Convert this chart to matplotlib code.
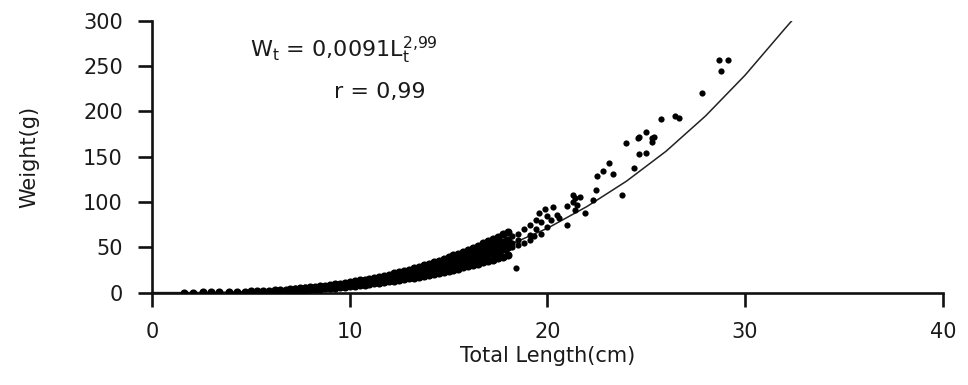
import numpy as np
import matplotlib.pyplot as plt

plt.rcParams['font.family'] = ['DejaVu Sans']
plt.rcParams['mathtext.fontset'] = 'dejavusans'

len_small = [1.6, 2.1, 2.6, 3.0, 3.4, 3.9, 4.3, 4.7, 5.0, 5.3, 5.6, 5.9, 6.2, 6.5, 6.8]
wt_small = [0.1, 0.1, 0.2, 0.3, 0.4, 0.6, 0.8, 1.0, 1.3, 1.5, 1.8, 2.1, 2.5, 2.9, 3.4]

# the dense band, 4 rows per length step (low .. high edge of the band)
band_len = [7.0, 7.25, 7.5, 7.75, 8.0, 8.25, 8.5, 8.75, 9.0, 9.25, 9.5, 9.75,
            10.0, 10.25, 10.5, 10.75, 11.0, 11.25, 11.5, 11.75, 12.0, 12.25, 12.5, 12.75,
            13.0, 13.25, 13.5, 13.75, 14.0, 14.25, 14.5, 14.75, 15.0, 15.25, 15.5, 15.75,
            16.0, 16.25, 16.5, 16.75, 17.0, 17.25, 17.5, 17.75, 18.0]
band_w1 = [2.4, 2.7, 3.0, 3.3, 3.6, 4.0, 4.4, 4.8, 5.2, 5.6, 6.1, 6.6,
           7.1, 7.6, 8.2, 8.8, 9.4, 10.1, 10.8, 11.5, 12.3, 13.0, 13.8, 14.7,
           15.6, 16.5, 17.4, 18.5, 19.4, 20.6, 21.6, 22.8, 23.9, 25.2, 26.4, 27.8,
           29.0, 30.5, 31.8, 33.4, 34.9, 36.4, 38.0, 39.7, 41.4]
band_w2 = [3.0, 3.3, 3.6, 4.0, 4.4, 4.8, 5.3, 5.8, 6.3, 6.8, 7.4, 8.0,
           8.6, 9.3, 10.0, 10.7, 11.5, 12.3, 13.1, 14.0, 14.9, 15.8, 16.8, 17.8,
           18.9, 20.0, 21.1, 22.4, 23.6, 24.9, 26.2, 27.6, 29.0, 30.6, 32.0, 33.7,
           35.2, 37.0, 38.6, 40.4, 42.3, 44.1, 46.1, 48.1, 50.1]
band_w3 = [3.4, 3.8, 4.2, 4.7, 5.1, 5.6, 6.2, 6.7, 7.3, 7.9, 8.6, 9.3,
           10.0, 10.8, 11.6, 12.5, 13.3, 14.3, 15.2, 16.3, 17.3, 18.4, 19.5, 20.8,
           22.0, 23.3, 24.6, 26.1, 27.5, 29.0, 30.5, 32.2, 33.8, 35.6, 37.3, 39.2,
           41.0, 43.1, 45.0, 47.1, 49.3, 51.4, 53.7, 56.0, 58.4]
band_w4 = [4.0, 4.4, 4.9, 5.4, 5.9, 6.5, 7.1, 7.7, 8.4, 9.1, 9.9, 10.7,
           11.5, 12.4, 13.4, 14.3, 15.4, 16.4, 17.5, 18.7, 19.9, 21.2, 22.5, 23.9,
           25.4, 26.8, 28.3, 30.0, 31.6, 33.4, 35.1, 37.1, 38.9, 41.0, 42.9, 45.1,
           47.2, 49.5, 51.7, 54.2, 56.7, 59.2, 61.8, 64.5, 67.2]

len_big = [17.6, 17.6, 17.9, 17.9, 17.9, 18.2, 18.2, 18.2, 18.5, 18.5, 18.5, 18.8,
           18.8, 19.1, 19.1, 19.1, 19.3, 19.4, 19.4, 19.6, 19.7, 19.7, 19.9, 20.0,
           20.0, 20.2, 20.3, 20.5, 20.6, 20.97, 21.0, 21.3, 21.4, 21.4, 21.5, 21.65,
           21.9, 22.3, 22.45, 18.4]
wt_big = [44, 56, 47, 58, 52, 50, 62, 55, 52, 65, 58, 55,
          70, 58, 75, 64, 62, 80, 70, 88, 65, 78, 92, 72,
          85, 80, 94, 86, 82, 74.5, 96, 100, 91, 104, 97, 105.7,
          88, 102, 113, 27.4]

len_top = [21.3, 22.5, 22.8, 23.3, 23.1, 23.75, 24.4, 24.65, 25.0, 24.0, 24.6,
           25.3, 25.3, 25.0, 25.4, 24.63, 25.75, 26.45, 26.67, 27.8, 28.8, 28.7, 29.15]
wt_top = [107.6, 129, 134, 131, 143, 107.6, 138, 152.5, 154.3, 164.7, 171,
          171, 166, 177.5, 172, 172, 191.5, 195, 193, 220, 245, 256.5, 256.5]

# fitted curve
curve_len = [0, 2, 4, 6, 8, 10, 12, 14, 16, 18, 20, 22, 24, 26, 28, 30, 32, 32.4]
curve_wt = [0, 0, 0.5, 2, 4.5, 9, 15, 24, 36, 52, 71, 95, 123, 156, 195, 240, 291, 301]

dense_len = len_small + band_len * 4
dense_wt = wt_small + band_w1 + band_w2 + band_w3 + band_w4
loose_len = len_big + len_top
loose_wt = wt_big + wt_top

fig = plt.figure(figsize=(9.68, 3.85), dpi=100)
ax = fig.add_axes([0.157, 0.24, 0.817, 0.706])

ax.plot(curve_len, curve_wt, color='#222222', lw=1.1, zorder=2)
ax.scatter(dense_len, dense_wt, s=34, color='black', linewidths=0, zorder=3)
ax.scatter(loose_len, loose_wt, s=20, color='black', linewidths=0, zorder=3)

ax.set_xlim(0, 40)
ax.set_ylim(0, 300)
ax.set_xticks([0, 10, 20, 30, 40])
ax.set_yticks([0, 50, 100, 150, 200, 250, 300])

for s in ['top', 'right']:
    ax.spines[s].set_visible(False)
for s in ['left', 'bottom']:
    ax.spines[s].set_linewidth(1.9)
    ax.spines[s].set_color('#111111')
ax.tick_params(direction='out', length=10, width=1.9, colors='#111111',
               labelsize=15, pad=11, labelcolor='#1a1a1a')

ax.set_xlabel('Total Length(cm)', fontsize=15, color='#1a1a1a')
ax.set_ylabel('Weight(g)', fontsize=15, color='#1a1a1a')
ax.xaxis.set_label_coords(0.5, -0.195)
ax.yaxis.set_label_coords(-0.142, 0.5)

ax.text(9.7, 268, r'W$_\mathregular{t}$ = 0,0091L$_\mathregular{t}^\mathregular{2{,}99}$',
        fontsize=16, ha='center', va='center', color='#1a1a1a')
ax.text(11.5, 221, 'r = 0,99', fontsize=16, ha='center', va='center', color='#1a1a1a')

fig.savefig('out.png', dpi=100)
